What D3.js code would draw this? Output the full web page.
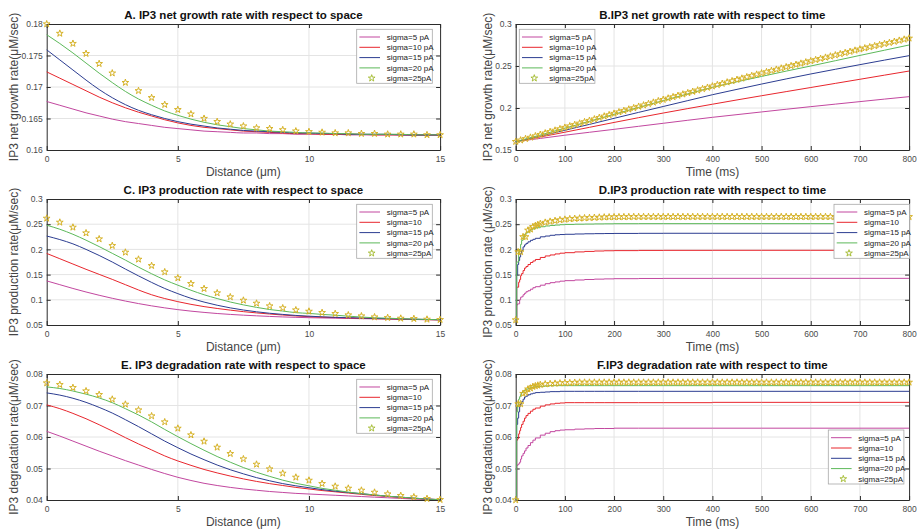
<!DOCTYPE html>
<html>
<head>
<meta charset="utf-8">
<script src="https://cdn.jsdelivr.net/npm/d3@7"></script>
<style>
  body { margin: 0; background: #fff; }
  text { font-family: "Liberation Sans", Arial, Helvetica, sans-serif; }
</style>
</head>
<body>
<svg id="chart" width="919" height="530"></svg>
<script>
// ---------- shared categories ----------
const legendAB = ["sigma=5 pA", "sigma=10 pA", "sigma=15 pA", "sigma=20 pA", "sigma=25pA"];
const legendCF = ["sigma=5 pA", "sigma=10", "sigma=15 pA", "sigma=20 pA", "sigma=25pA"];

// distance samples (µm)
const distance = [0,0.5,1,1.5,2,2.5,3,3.5,4,4.5,5,5.5,6,6.5,7,7.5,8,8.5,9,9.5,10,10.5,11,11.5,12,12.5,13,13.5,14,14.5,15];
const distanceTicks = [0, 5, 10, 15];

// ---------- A: net growth rate vs distance ----------
const netSpace5  = [0.1677,0.1671,0.1665,0.1659,0.1654,0.1649,0.1645,0.1642,0.1639,0.1636,0.1634,0.1632,0.1630,0.1629,0.1628,0.1627,0.1627,0.1626,0.1626,0.1625,0.1625,0.1625,0.1625,0.1624,0.1624,0.1624,0.1624,0.1624,0.1623,0.1623,0.1623];
const netSpace10 = [0.1724,0.1714,0.1704,0.1694,0.1684,0.1675,0.1667,0.1660,0.1654,0.1648,0.1643,0.1639,0.1636,0.1634,0.1632,0.1630,0.1629,0.1628,0.1627,0.1626,0.1626,0.1625,0.1625,0.1625,0.1625,0.1624,0.1624,0.1624,0.1624,0.1624,0.1624];
const netSpace15 = [0.1759,0.1743,0.1727,0.1711,0.1696,0.1683,0.1672,0.1663,0.1656,0.1650,0.1645,0.1641,0.1638,0.1635,0.1633,0.1631,0.1630,0.1629,0.1628,0.1627,0.1627,0.1626,0.1626,0.1625,0.1625,0.1625,0.1625,0.1624,0.1624,0.1624,0.1624];
const netSpace20 = [0.1783,0.1769,0.1754,0.1738,0.1722,0.1707,0.1693,0.1681,0.1671,0.1662,0.1655,0.1649,0.1644,0.1640,0.1637,0.1634,0.1632,0.1630,0.1629,0.1628,0.1627,0.1627,0.1626,0.1626,0.1625,0.1625,0.1625,0.1625,0.1624,0.1624,0.1624];
const netSpace25 = [0.1800,0.1785,0.1769,0.1753,0.1737,0.1722,0.1707,0.1694,0.1683,0.1672,0.1664,0.1657,0.1650,0.1645,0.1641,0.1638,0.1635,0.1634,0.1632,0.1630,0.1629,0.1628,0.1627,0.1627,0.1626,0.1626,0.1625,0.1625,0.1625,0.1624,0.1624];
const netSpaceTicks = [0.16, 0.165, 0.17, 0.175, 0.18];

// ---------- B: net growth rate vs time ----------
const timeB = [0,50,100,150,200,250,300,350,400,450,500,550,600,650,700,750,800];
const netTime5  = [0.1600,0.1638,0.1676,0.1711,0.1746,0.1782,0.1818,0.1854,0.1889,0.1921,0.1953,0.1985,0.2016,0.2046,0.2076,0.2106,0.2135];
const netTime10 = [0.1600,0.1655,0.1712,0.1770,0.1828,0.1885,0.1940,0.1993,0.2045,0.2096,0.2146,0.2195,0.2244,0.2293,0.2342,0.2391,0.2440];
const netTime15 = [0.1600,0.1665,0.1735,0.1805,0.1877,0.1948,0.2018,0.2088,0.2158,0.2222,0.2285,0.2346,0.2405,0.2461,0.2516,0.2570,0.2623];
const netTime20 = [0.1600,0.1678,0.1760,0.1842,0.1925,0.2007,0.2088,0.2168,0.2246,0.2312,0.2376,0.2439,0.2500,0.2563,0.2626,0.2688,0.2750];
const timeStarB = [0,10,20,30,40,50,60,70,80,90,100,110,120,130,140,150,160,170,180,190,200,210,220,230,240,250,260,270,280,290,300,310,320,330,340,350,360,370,380,390,400,410,420,430,440,450,460,470,480,490,500,510,520,530,540,550,560,570,580,590,600,610,620,630,640,650,660,670,680,690,700,710,720,730,740,750,760,770,780,790,800];
const netTime25 = [0.1600,0.1617,0.1634,0.1650,0.1667,0.1684,0.1701,0.1718,0.1734,0.1751,0.1768,
  0.1785,0.1801,0.1818,0.1835,0.1851,0.1868,0.1885,0.1902,0.1918,0.1935,
  0.1952,0.1968,0.1985,0.2001,0.2018,0.2034,0.2051,0.2067,0.2084,0.2100,
  0.2116,0.2132,0.2148,0.2164,0.2180,0.2196,0.2212,0.2228,0.2244,0.2260,
  0.2276,0.2291,0.2307,0.2322,0.2338,0.2353,0.2369,0.2384,0.2400,0.2415,
  0.2430,0.2444,0.2459,0.2473,0.2488,0.2502,0.2517,0.2531,0.2546,0.2560,
  0.2574,0.2588,0.2602,0.2616,0.2630,0.2644,0.2658,0.2672,0.2686,0.2700,
  0.2713,0.2726,0.2739,0.2752,0.2765,0.2778,0.2791,0.2804,0.2817,0.2830];
const netTimeTicks = [0.15, 0.2, 0.25, 0.3];

// ---------- C: production rate vs distance ----------
const prodSpace5  = [0.1375,0.1300,0.1225,0.1155,0.1090,0.1030,0.0975,0.0925,0.0880,0.0840,0.0805,0.0775,0.0750,0.0728,0.0710,0.0695,0.0682,0.0670,0.0660,0.0652,0.0645,0.0640,0.0635,0.0630,0.0626,0.0622,0.0618,0.0614,0.0610,0.0606,0.0602];
const prodSpace10 = [0.1920,0.1815,0.1710,0.1605,0.1505,0.1405,0.1300,0.1195,0.1100,0.1025,0.0963,0.0910,0.0865,0.0828,0.0795,0.0765,0.0740,0.0718,0.0698,0.0680,0.0665,0.0655,0.0648,0.0640,0.0633,0.0627,0.0621,0.0615,0.0610,0.0606,0.0602];
const prodSpace15 = [0.2265,0.2195,0.2110,0.2000,0.1880,0.1750,0.1610,0.1475,0.1345,0.1225,0.1122,0.1030,0.0955,0.0892,0.0840,0.0797,0.0762,0.0733,0.0710,0.0690,0.0675,0.0662,0.0652,0.0645,0.0638,0.0632,0.0626,0.0620,0.0615,0.0610,0.0605];
const prodSpace20 = [0.2480,0.2400,0.2300,0.2183,0.2056,0.1922,0.1788,0.1648,0.1517,0.1395,0.1290,0.1190,0.1100,0.1025,0.0956,0.0899,0.0850,0.0807,0.0777,0.0745,0.0730,0.0710,0.0695,0.0675,0.0658,0.0643,0.0635,0.0625,0.0618,0.0610,0.0605];
const prodSpace25 = [0.2616,0.2537,0.2438,0.2325,0.2206,0.2074,0.1942,0.1803,0.1677,0.1552,0.1433,0.1320,0.1221,0.1135,0.1056,0.0989,0.0930,0.0877,0.0837,0.0797,0.0771,0.0745,0.0725,0.0698,0.0678,0.0658,0.0645,0.0632,0.0625,0.0612,0.0605];
const prodTicks = [0.05, 0.1, 0.15, 0.2, 0.25, 0.3];

// ---------- D / F time grids ----------
const timeLine = [0,2,4,6,8,10,12,15,18,21,25,30,35,40,50,60,70,80,90,100,120,140,160,180,200,250,300,400,500,600,700,800];
const timeStar = [0,5,10,15,20,25,30,35,40,45,50,60,70,80,90,100,110,120,130,140,150,160,170,180,190,200,210,220,230,240,250,260,270,280,290,300,310,320,330,340,350,360,370,380,390,400,410,420,430,440,450,460,470,480,490,500,510,520,530,540,550,560,570,580,590,600,610,620,630,640,650,660,670,680,690,700,710,720,730,740,750,760,770,780,790,800];
const timeTicks = [0,100,200,300,400,500,600,700,800];

// ---------- D: production rate vs time ----------
const prodTime5  = [0.060,0.090,0.092,0.092,0.100,0.105,0.106,0.110,0.113,0.116,0.118,0.121,0.124,0.126,0.129,0.132,0.134,0.1355,0.137,0.138,0.1393,0.1403,0.1410,0.1415,0.1419,0.1423,0.1425,0.1426,0.1426,0.1426,0.1426,0.1426];
const prodTime10 = [0.060,0.125,0.125,0.135,0.140,0.148,0.152,0.158,0.163,0.166,0.170,0.174,0.177,0.180,0.184,0.187,0.189,0.191,0.1925,0.1935,0.1950,0.1960,0.1968,0.1973,0.1976,0.1980,0.1981,0.1982,0.1982,0.1982,0.1982,0.1982];
const prodTime15 = [0.060,0.150,0.170,0.178,0.185,0.192,0.198,0.205,0.209,0.212,0.215,0.218,0.220,0.222,0.225,0.2265,0.228,0.229,0.2295,0.2300,0.2306,0.2310,0.2313,0.2315,0.2317,0.2319,0.2320,0.2320,0.2320,0.2320,0.2320,0.2320];
const prodTime20 = [0.060,0.175,0.175,0.195,0.200,0.210,0.218,0.225,0.230,0.233,0.236,0.239,0.241,0.243,0.245,0.2465,0.2475,0.2483,0.2490,0.2495,0.2500,0.2503,0.2506,0.2508,0.2510,0.2511,0.2511,0.2511,0.2511,0.2511,0.2511,0.2511];
const prodTime25 = [0.060,0.195,0.195,0.225,0.225,0.238,0.240,0.245,0.247,0.249,0.251,
  0.2535,0.2555,0.2570,0.2585,0.2595,0.2605,0.2612,0.2618,0.2623,0.2628,0.2632,0.2636,0.2639,0.2641,0.2643,0.2644,0.2645,0.2646,0.2647,0.2647,
  0.2648,0.2648,0.2648,0.2648,0.2648,0.2648,0.2648,0.2648,0.2648,0.2648,0.2648,0.2648,0.2648,0.2648,0.2648,0.2648,0.2648,0.2648,0.2648,0.2648,
  0.2648,0.2648,0.2648,0.2648,0.2648,0.2648,0.2648,0.2648,0.2648,0.2648,0.2648,0.2648,0.2648,0.2648,0.2648,0.2648,0.2648,0.2648,0.2648,0.2648,
  0.2648,0.2648,0.2648,0.2648,0.2648,0.2648,0.2648,0.2648,0.2648,0.2648,0.2648,0.2648,0.2648,0.2648,0.2648];

// ---------- E: degradation rate vs distance ----------
const degSpace5  = [0.0618,0.0603,0.0587,0.0571,0.0555,0.0540,0.0525,0.0511,0.0497,0.0484,0.0472,0.0462,0.0453,0.0446,0.0440,0.0435,0.0431,0.0427,0.0424,0.0421,0.0419,0.0417,0.0415,0.0413,0.0411,0.0409,0.0407,0.0405,0.0403,0.0402,0.0401];
const degSpace10 = [0.0702,0.0690,0.0675,0.0658,0.0639,0.0619,0.0598,0.0578,0.0559,0.0540,0.0524,0.0510,0.0497,0.0486,0.0476,0.0467,0.0459,0.0452,0.0446,0.0440,0.0435,0.0430,0.0426,0.0422,0.0418,0.0414,0.0411,0.0408,0.0405,0.0403,0.0401];
const degSpace15 = [0.0740,0.0733,0.0723,0.0710,0.0694,0.0676,0.0655,0.0633,0.0610,0.0587,0.0566,0.0546,0.0528,0.0511,0.0496,0.0483,0.0471,0.0461,0.0452,0.0445,0.0439,0.0433,0.0428,0.0424,0.0420,0.0416,0.0412,0.0409,0.0406,0.0403,0.0401];
const degSpace20 = [0.0759,0.0754,0.0746,0.0736,0.0724,0.0709,0.0690,0.0670,0.0648,0.0624,0.0601,0.0579,0.0558,0.0538,0.0520,0.0503,0.0488,0.0475,0.0463,0.0453,0.0445,0.0437,0.0431,0.0425,0.0420,0.0416,0.0412,0.0409,0.0406,0.0403,0.0401];
const degSpace25 = [0.07714,0.07661,0.07566,0.0746,0.07344,0.07196,0.07037,0.06857,0.06667,0.06476,0.06275,0.06063,0.05862,0.05672,0.05471,0.05302,0.05132,0.04984,0.04847,0.0472,0.04624,0.04519,0.04434,0.0437,0.04307,0.04243,0.0419,0.04138,0.04095,0.04042,0.0401];
const degTicks = [0.04, 0.05, 0.06, 0.07, 0.08];

// ---------- F: degradation rate vs time ----------
const degTime5  = [0.040,0.0510,0.0512,0.0515,0.0520,0.0530,0.0540,0.0548,0.0556,0.0565,0.0573,0.0582,0.0590,0.0597,0.0606,0.0612,0.0617,0.0620,0.0622,0.0623,0.0625,0.0626,0.0627,0.0627,0.0628,0.0628,0.0628,0.0628,0.0628,0.0628,0.0628,0.0628];
const degTime10 = [0.040,0.0590,0.0595,0.0610,0.0620,0.0630,0.0640,0.0650,0.0660,0.0668,0.0675,0.0682,0.0688,0.0692,0.0698,0.0702,0.0705,0.0707,0.0708,0.0709,0.0709,0.0709,0.0709,0.0709,0.0709,0.0709,0.0709,0.0710,0.0710,0.0710,0.0710,0.0710];
const degTime15 = [0.040,0.0640,0.0660,0.0680,0.0698,0.0705,0.0712,0.0720,0.0727,0.0730,0.0734,0.0737,0.0739,0.0741,0.0742,0.0743,0.0744,0.0744,0.0745,0.0745,0.0745,0.0745,0.0745,0.0745,0.0745,0.0745,0.0745,0.0745,0.0745,0.0745,0.0745,0.0745];
const degTime20 = [0.040,0.0680,0.0702,0.0720,0.0728,0.0735,0.0741,0.0746,0.0749,0.0752,0.0754,0.0757,0.0759,0.0760,0.0761,0.0762,0.0763,0.0763,0.0763,0.0763,0.0763,0.0763,0.0763,0.0763,0.0763,0.0763,0.0763,0.0763,0.0763,0.0763,0.0763,0.0763];
const degTime25 = [0.040,0.0705,0.0705,0.0738,0.0742,0.0752,0.0755,0.0760,0.0762,0.0764,0.0766,
  0.0768,0.0769,0.0770,0.0771,0.0772,0.0772,0.0773,
  0.07735,0.07735,0.07735,0.07735,0.07735,0.07735,0.07735,0.07735,0.07735,0.07735,0.07735,0.07735,0.07735,0.07735,0.07735,0.07735,0.07735,
  0.07735,0.07735,0.07735,0.07735,0.07735,0.07735,0.07735,0.07735,0.07735,0.07735,0.07735,0.07735,0.07735,0.07735,0.07735,0.07735,0.07735,
  0.07735,0.07735,0.07735,0.07735,0.07735,0.07735,0.07735,0.07735,0.07735,0.07735,0.07735,0.07735,0.07735,0.07735,0.07735,0.07735,0.07735,
  0.07735,0.07735,0.07735,0.07735,0.07735,0.07735,0.07735,0.07735,0.07735,0.07735,0.07735,0.07735,0.07735,0.07735,0.07735,0.07735,0.07735];

// ---------- styling ----------
const lineColors = ["#c2479f", "#e8262d", "#2c3d91", "#5db95a"];
const starStroke = "#d6b227";
const starLegend = "#a9bf3c";
const axisColor = "#2b2b2b";
const labelColor = "#454545";
const gridColor = "#e4e4e4";

const svg = d3.select("#chart");
const fmt = d => String(+d.toFixed(4));
const starPath = d3.symbol().type(d3.symbolStar).size(14);

const colLeft = [46.7, 515.7];
const rowTop = [24, 199, 374];
const plotW = 393.4, plotH = 126;

const panels = [
  { col: 0, row: 0, title: "A. IP3 net growth rate with respect to space", ylab: "IP3 net growth rate(\u03BCM/sec)", xlab: "Distance (\u03BCm)",
    x: distance, xDomain: [0, 15], xTicks: distanceTicks, yDomain: [0.16, 0.18], yTicks: netSpaceTicks,
    lines: [netSpace5, netSpace10, netSpace15, netSpace20], xStar: distance, stars: netSpace25, curve: d3.curveMonotoneX,
    names: legendAB, legend: [356.7, 29.3] },
  { col: 1, row: 0, title: "B.IP3 net growth rate with respect to time", ylab: "IP3 net growth rate(\u03BCM/sec)", xlab: "Time (ms)",
    x: timeB, xDomain: [0, 800], xTicks: timeTicks, yDomain: [0.15, 0.3], yTicks: netTimeTicks,
    lines: [netTime5, netTime10, netTime15, netTime20], xStar: timeStarB, stars: netTime25, curve: d3.curveMonotoneX,
    names: legendAB, legend: [519.3, 29.3] },
  { col: 0, row: 1, title: "C. IP3 production rate with respect to space", ylab: "IP3 production rate(\u03BCM/sec)", xlab: "Distance (\u03BCm)",
    x: distance, xDomain: [0, 15], xTicks: distanceTicks, yDomain: [0.05, 0.3], yTicks: prodTicks,
    lines: [prodSpace5, prodSpace10, prodSpace15, prodSpace20], xStar: distance, stars: prodSpace25, curve: d3.curveMonotoneX,
    names: legendCF, legend: [356.7, 204.3] },
  { col: 1, row: 1, title: "D.IP3 production rate with respect to time", ylab: "IP3 production rate (\u03BCM/sec)", xlab: "Time (ms)",
    x: timeLine, xDomain: [0, 800], xTicks: timeTicks, yDomain: [0.05, 0.3], yTicks: prodTicks,
    lines: [prodTime5, prodTime10, prodTime15, prodTime20], xStar: timeStar, stars: prodTime25, curve: d3.curveStepAfter,
    names: legendCF, legend: [834, 204.3] },
  { col: 0, row: 2, title: "E. IP3 degradation rate with respect to space", ylab: "IP3 degradation rate(\u03BCM/sec)", xlab: "Distance (\u03BCm)",
    x: distance, xDomain: [0, 15], xTicks: distanceTicks, yDomain: [0.04, 0.08], yTicks: degTicks,
    lines: [degSpace5, degSpace10, degSpace15, degSpace20], xStar: distance, stars: degSpace25, curve: d3.curveMonotoneX,
    names: legendCF, legend: [356.7, 379.3] },
  { col: 1, row: 2, title: "F.IP3 degradation rate with respect to time", ylab: "IP3 degradation rate(\u03BCM/sec)", xlab: "Time (ms)",
    x: timeLine, xDomain: [0, 800], xTicks: timeTicks, yDomain: [0.04, 0.08], yTicks: degTicks,
    lines: [degTime5, degTime10, degTime15, degTime20], xStar: timeStar, stars: degTime25, curve: d3.curveStepAfter,
    names: legendCF, legend: [828.3, 430] }
];

function styleAxis(sel) {
  sel.select(".domain").attr("stroke", axisColor).attr("stroke-width", 1);
  sel.selectAll(".tick line").attr("stroke", axisColor);
  sel.selectAll(".tick text").attr("fill", "#4a4a4a").style("font-size", "8.5px")
     .style("font-family", "'Liberation Sans', Arial, sans-serif");
}

panels.forEach(p => {
  const left = colLeft[p.col], top = rowTop[p.row];
  const x = d3.scaleLinear().domain(p.xDomain).range([left, left + plotW]);
  const y = d3.scaleLinear().domain(p.yDomain).range([top + plotH, top]);
  const g = svg.append("g");

  // grid
  g.append("g").selectAll("line").data(p.xTicks.slice(1, -1)).join("line")
    .attr("x1", d => x(d)).attr("x2", d => x(d)).attr("y1", top).attr("y2", top + plotH)
    .attr("stroke", gridColor).attr("stroke-width", 1);
  g.append("g").selectAll("line").data(p.yTicks.slice(1, -1)).join("line")
    .attr("y1", d => y(d)).attr("y2", d => y(d)).attr("x1", left).attr("x2", left + plotW)
    .attr("stroke", gridColor).attr("stroke-width", 1);

  // axes on all four sides, ticks pointing inward
  g.append("g").attr("transform", `translate(0,${top + plotH})`)
    .call(d3.axisBottom(x).tickValues(p.xTicks).tickSizeInner(-4).tickSizeOuter(0).tickPadding(6).tickFormat(fmt))
    .call(styleAxis);
  g.append("g").attr("transform", `translate(0,${top})`)
    .call(d3.axisTop(x).tickValues(p.xTicks).tickSizeInner(-4).tickSizeOuter(0).tickFormat(""))
    .call(styleAxis);
  g.append("g").attr("transform", `translate(${left},0)`)
    .call(d3.axisLeft(y).tickValues(p.yTicks).tickSizeInner(-4).tickSizeOuter(0).tickPadding(4).tickFormat(fmt))
    .call(styleAxis);
  g.append("g").attr("transform", `translate(${left + plotW},0)`)
    .call(d3.axisRight(y).tickValues(p.yTicks).tickSizeInner(-4).tickSizeOuter(0).tickFormat(""))
    .call(styleAxis);

  // series lines
  const line = d3.line().x((d, i) => x(p.x[i])).y(d => y(d)).curve(p.curve);
  p.lines.forEach((vals, k) => {
    g.append("path").datum(vals).attr("d", line)
      .attr("fill", "none").attr("stroke", lineColors[k]).attr("stroke-width", 1);
  });

  // star markers
  g.append("g").selectAll("path").data(p.stars).join("path")
    .attr("d", starPath)
    .attr("transform", (d, i) => `translate(${x(p.xStar[i])},${y(d)})`)
    .attr("fill", "none").attr("stroke", starStroke).attr("stroke-width", 1);

  // title and axis labels
  g.append("text").attr("x", left + plotW / 2).attr("y", top - 5)
    .attr("text-anchor", "middle").attr("font-weight", "bold").attr("font-size", 11.5)
    .attr("fill", "#111").text(p.title);
  g.append("text").attr("x", left + plotW / 2).attr("y", top + plotH + 26)
    .attr("text-anchor", "middle").attr("font-size", 12).attr("fill", labelColor).text(p.xlab);
  const yx = p.col === 0 ? 18 : 492;
  g.append("text").attr("transform", `translate(${yx},${top + plotH / 2}) rotate(-90)`)
    .attr("text-anchor", "middle").attr("font-size", 12).attr("fill", labelColor).text(p.ylab);

  // legend
  const [lx, ly] = p.legend;
  const lg = g.append("g").attr("transform", `translate(${lx},${ly})`);
  lg.append("rect").attr("width", 75.6).attr("height", 54).attr("fill", "#fff")
    .attr("stroke", "#a8a8a8").attr("stroke-width", 0.8);
  p.names.forEach((name, k) => {
    const yy = 7.7 + k * 10.3;
    if (k < 4) {
      lg.append("line").attr("x1", 2.7).attr("x2", 23.3).attr("y1", yy).attr("y2", yy)
        .attr("stroke", lineColors[k]).attr("stroke-width", 1);
    } else {
      lg.append("path").attr("d", starPath).attr("transform", `translate(15,${yy})`)
        .attr("fill", "none").attr("stroke", starLegend).attr("stroke-width", 1);
    }
    lg.append("text").attr("x", 30).attr("y", yy + 2.8).attr("font-size", 8)
      .attr("fill", "#222").text(name);
  });
});
</script>
</body>
</html>
